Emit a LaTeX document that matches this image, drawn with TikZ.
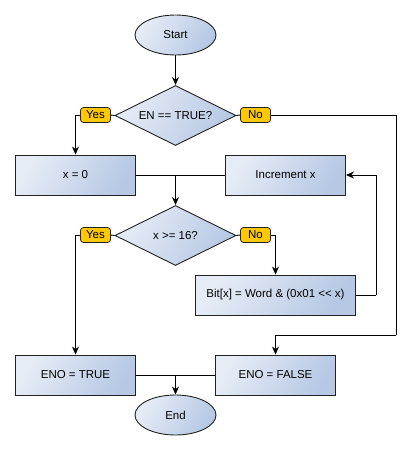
\documentclass[tikz,border=0pt]{standalone}
\usepackage{fontspec}
\setmainfont{Liberation Sans}
\usetikzlibrary{shapes.geometric,arrows.meta}
\definecolor{boxlight}{HTML}{E6ECF6}
\definecolor{boxdark}{HTML}{B6C8E4}
\definecolor{tagfill}{HTML}{FFC800}
\definecolor{edge}{HTML}{222222}
\begin{document}
\begin{tikzpicture}[x=1pt,y=-1pt,
  font=\fontsize{11.5}{13}\selectfont,
  base/.style={draw=edge,line width=0.9pt,left color=boxlight,right color=boxdark,shading angle=60,inner sep=0pt},
  procbox/.style={base,rectangle,minimum width=#1,minimum height=40pt},
  procbox/.default=120pt,
  termnode/.style={base,ellipse,minimum width=81pt,minimum height=40pt},
  decnode/.style={base,diamond,aspect=2,minimum width=121pt,minimum height=60pt},
  tag/.style={draw=edge,line width=0.8pt,fill=tagfill,rounded corners=3pt,minimum width=30pt,minimum height=15pt,inner sep=0pt},
  conn/.style={line width=0.9pt,draw=black},
  arr/.style={conn,-{Stealth[length=8pt,width=7pt,inset=2.5pt]}}
]
\useasboundingbox (0,0) rectangle (410,450);
\node[termnode] (start) at (175.5,35) {Start};
\node[decnode] (en) at (175.5,115.5) {EN == TRUE?};
\node[tag] (yes1) at (95.5,115) {Yes};
\node[tag] (no1) at (255.5,115) {No};
\node[procbox] (x0) at (75.5,175) {x = 0};
\node[procbox] (inc) at (285.5,175) {Increment x};
\node[decnode] (dx) at (175.5,235.5) {x {>}= 16?};
\node[tag] (yes2) at (95.5,235) {Yes};
\node[tag] (no2) at (255.5,235) {No};
\node[procbox=160pt] (bit) at (275.5,295) {Bit[x] = Word \& (0x01 {<}{<} x)};
\node[procbox] (enot) at (75.5,375) {ENO = TRUE};
\node[procbox] (enof) at (275.5,375) {ENO = FALSE};
\node[termnode] (endn) at (175.5,415) {End};
\coordinate (j1) at (175.5,175);
\coordinate (j2) at (175.5,375);
\coordinate (c1) at (396,335);
\coordinate (c2) at (376,295);

\draw[arr] (start) -- (en);
\draw[conn] (en.west) -- (yes1.east);
\draw[arr] (yes1.west) -| (x0.north);
\draw[conn] (en.east) -- (no1.west);
\draw[conn] (no1.east) -| (c1);
\draw[arr] (c1) -| (enof.north);
\draw[conn] (x0.east) -- (inc.west);
\draw[arr] (j1) -- (dx.north);
\draw[conn] (dx.west) -- (yes2.east);
\draw[arr] (yes2.west) -| (enot.north);
\draw[conn] (dx.east) -- (no2.west);
\draw[arr] (no2.east) -| (bit.north);
\draw[conn] (bit.east) -- (c2);
\draw[arr] (c2) |- (inc.east);
\draw[conn] (enot.east) -- (enof.west);
\draw[arr] (j2) -- (endn.north);
\end{tikzpicture}
\end{document}
